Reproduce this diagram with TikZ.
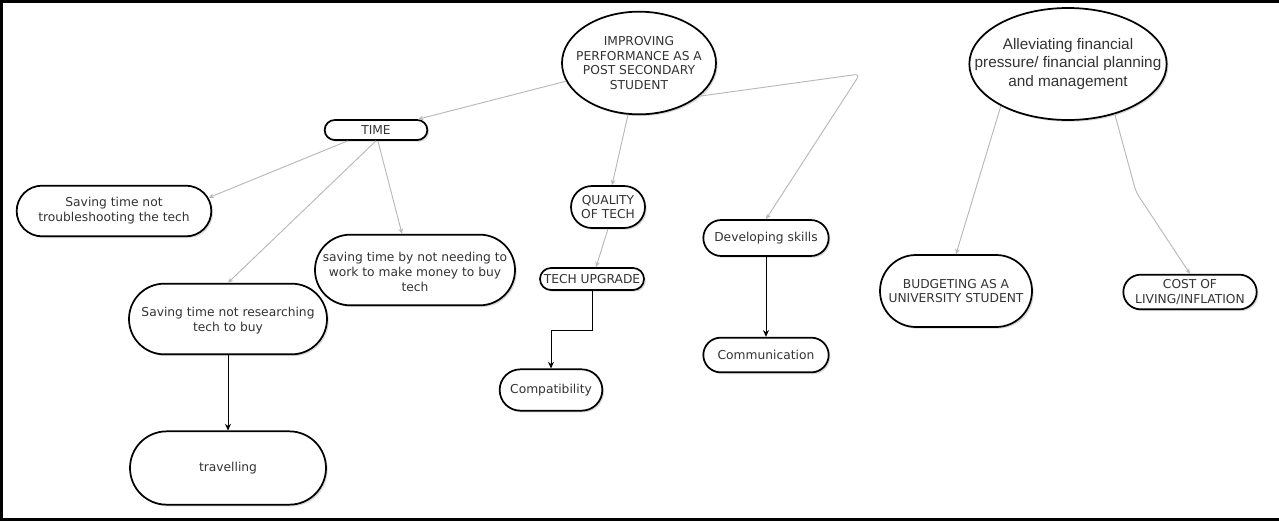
\documentclass[tikz,border=0pt]{standalone}
\usepackage{fontspec}
\setmainfont{DejaVu Sans}
\newfontfamily\arialf{Liberation Sans}
\usetikzlibrary{shapes.misc,shapes.geometric,shadows,arrows.meta,calc}
\definecolor{txt}{HTML}{333333}
\definecolor{conn}{HTML}{B8B8B8}
\begin{document}
\begin{tikzpicture}[x=0.75pt,y=-0.75pt,
 shp/.style={draw=black, line width=1.3pt, fill=white, drop shadow={shadow xshift=1.3pt, shadow yshift=-1.3pt, opacity=0.3}, inner sep=0pt},
 pill/.style={shp, rounded rectangle},
 oval/.style={shp, ellipse},
 lbl/.style={font=\fontsize{9.2}{11.2}\selectfont, text=txt, align=center, inner sep=0pt},
 gline/.style={draw=conn, line width=0.7pt, -{Stealth[length=4pt,width=3.5pt]}},
 bline/.style={draw=black, line width=0.7pt, -{Stealth[length=5pt,width=4.5pt]}}]
\useasboundingbox (0,0) rectangle (1279,522);
\draw[line width=2.2pt] (1.5,519) -- (1.5,1.2) -- (1279,1.2);
\draw[line width=1.6pt] (0,519.5) -- (1279,519.5);

% shapes
\node[oval, minimum width=115.5pt, minimum height=77pt] (main) at (639,63) {};
\node[lbl] (main-t) at (main) {IMPROVING\\PERFORMANCE AS A\\POST SECONDARY\\STUDENT};
\node[oval, minimum width=148pt, minimum height=84pt] (fin) at (1068,64) {};
\node[lbl, font=\arialf\fontsize{11.5}{14}\selectfont] (fin-t) at (fin) {Alleviating financial\\pressure/ financial planning\\and management};

\node[pill, minimum width=77pt, minimum height=15pt] (time) at (376,130) {};
\node[lbl] (time-t) at (time) {TIME};
\node[pill, minimum width=146pt, minimum height=38pt] (trouble) at (114,211) {};
\node[lbl] (trouble-t) at (trouble) {Saving time not\\troubleshooting the tech};
\node[pill, minimum width=150pt, minimum height=53pt] (need) at (415,270) {};
\node[lbl] (need-t) at (415,272) {saving time by not needing to\\work to make money to buy\\tech};
\node[pill, minimum width=148.5pt, minimum height=53pt] (res) at (228,319) {};
\node[lbl] (res-t) at (228,321) {Saving time not researching\\tech to buy};
\node[pill, minimum width=147pt, minimum height=55pt] (trav) at (228,468) {};
\node[lbl] (trav-t) at (trav) {travelling};
\node[pill, minimum width=55.5pt, minimum height=31.5pt] (qual) at (608,207) {};
\node[lbl] (qual-t) at (qual) {QUALITY\\OF TECH};
\node[pill, minimum width=78pt, minimum height=16.5pt] (upg) at (592,279) {};
\node[lbl] (upg-t) at (upg) {TECH UPGRADE};
\node[pill, minimum width=77pt, minimum height=31pt] (comp) at (551,390) {};
\node[lbl] (comp-t) at (comp) {Compatibility};
\node[pill, minimum width=94pt, minimum height=27pt] (dev) at (766,238) {};
\node[lbl] (dev-t) at (dev) {Developing skills};
\node[pill, minimum width=94pt, minimum height=26pt] (comm) at (766,355) {};
\node[lbl] (comm-t) at (comm) {Communication};
\node[pill, minimum width=114pt, minimum height=54pt] (bud) at (956,291) {};
\node[lbl] (bud-t) at (bud) {BUDGETING AS A\\UNIVERSITY STUDENT};
\node[pill, minimum width=100pt, minimum height=26pt] (cost) at (1190,292) {};
\node[lbl] (cost-t) at (cost) {COST OF\\LIVING/INFLATION};

% connectors
\coordinate (bendA) at (860,74);
\coordinate (bendB) at (1136,192);
\draw[gline] (main.194) -- (time);
\draw[gline] (main.258) -- ($(qual.north)+(4,0)$);
\draw[gline, rounded corners=4pt] (main.-29) -- (bendA) -- (dev.north);
\draw[gline] (time.201) -- (trouble.8);
\draw[gline] (time.south) -- (res.north);
\draw[gline] (time.-80) -- ($(need.north)+(-13,0)$);
\draw[gline] (qual.south) -- ($(upg.north)+(4,0)$);
\draw[bline] (upg.south) -- ++(0,40) -| (comp.north);
\draw[bline] (res.south) -- (trav.north);
\draw[bline] (dev.south) -- (comm.north);
\draw[gline] (fin.212) -- (bud.north);
\draw[gline, rounded corners=4pt] (fin.-47) -- (bendB) -- (cost.north);
\end{tikzpicture}
\end{document}
